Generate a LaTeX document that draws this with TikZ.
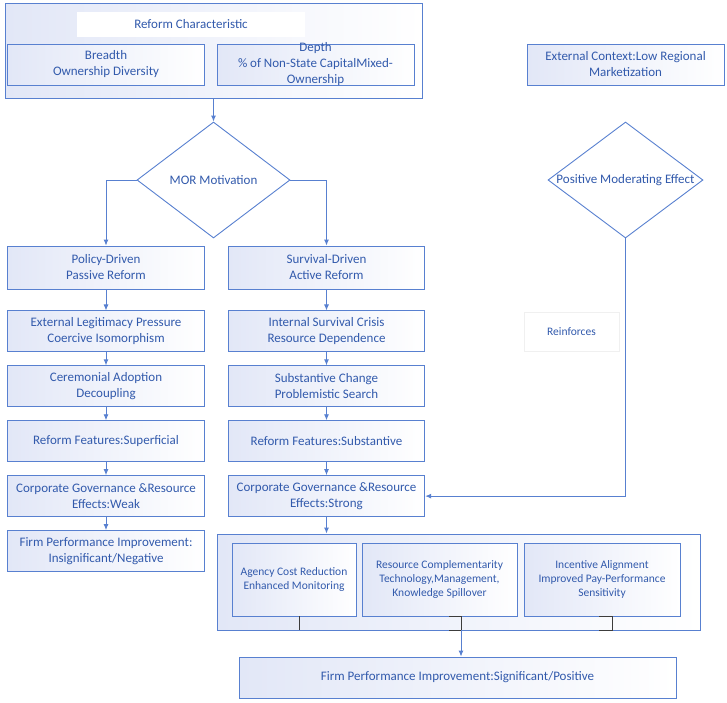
\documentclass[tikz,border=0pt]{standalone}
\usepackage{fontspec}
\setmainfont{Carlito}
\usetikzlibrary{positioning,shapes.geometric,arrows.meta}
\definecolor{morblue}{RGB}{88,128,208}
\definecolor{mortext}{RGB}{50,90,172}
\definecolor{morfill}{RGB}{226,231,247}
\definecolor{morgray}{RGB}{60,60,60}
\tikzset{
  box/.style={rectangle, draw=morblue, line width=0.9pt, left color=morfill, right color=white,
    text=mortext, align=center, font=\fontsize{13}{16}\selectfont, inner sep=1pt},
  colbox/.style={box, minimum width=196.5pt, minimum height=41pt},
  inbox/.style={box, font=\fontsize{11.5}{14}\selectfont, minimum height=73pt},
  dia/.style={diamond, draw=morblue, line width=0.9pt, fill=white, inner sep=0pt},
  diatext/.style={text=mortext, font=\fontsize{13}{16}\selectfont},
  arrow/.style={draw=morblue, line width=0.9pt, -{Latex[length=6pt,width=5pt]}},
  link/.style={draw=morgray, line width=0.9pt}
}
\begin{document}
\begin{tikzpicture}[x=1pt,y=-1pt,node distance=13pt]
  \useasboundingbox (0,0) rectangle (727,702);

  \node [box, minimum width=417pt, minimum height=95pt] (rc) at (213.5,50.5) {};
  \node [fill=white, text=mortext, font=\fontsize{13}{16}\selectfont,
    minimum width=228pt, minimum height=25pt] (ttl) at (191,24.5) {Reform Characteristic};
  \node [colbox] (br) at (106,64.5) {Breadth\\Ownership Diversity};
  \node [colbox, minimum width=197pt, inner ysep=-3pt] (dp) at (315.5,64.5)
    {Depth\\\% of Non-State CapitalMixed-\\Ownership};

  \node [colbox, minimum width=197pt] (ec) at (625.5,64.5) {External Context:Low Regional\\Marketization};

  \node [dia, minimum width=153pt, minimum height=116pt,
    label={[diatext]center:MOR Motivation}] (mor) at (213.5,180) {};
  \node [dia, minimum width=155pt, minimum height=116pt,
    label={[diatext]center:Positive Moderating Effect}] (pme) at (625.5,180) {};

  % passive branch
  \node [colbox, minimum height=43pt] (p1) at (106,267.5) {Policy-Driven\\Passive Reform};
  \node [colbox, below=21pt of p1] (p2) {External Legitimacy Pressure\\Coercive Isomorphism};
  \node [colbox, below=of p2] (p3) {Ceremonial Adoption\\Decoupling};
  \node [colbox, below=of p3] (p4) {Reform Features:Superficial};
  \node [colbox, below=of p4] (p5) {Corporate Governance \&Resource\\Effects:Weak};
  \node [colbox, below=of p5] (p6) {Firm Performance Improvement:\\Insignificant/Negative};

  % active branch
  \node [colbox, minimum height=43pt] (s1) at (326.5,267.5) {Survival-Driven\\Active Reform};
  \node [colbox, below=21pt of s1] (s2) {Internal Survival Crisis\\Resource Dependence};
  \node [colbox, below=of s2] (s3) {Substantive Change\\Problemistic Search};
  \node [colbox, below=of s3] (s4) {Reform Features:Substantive};
  \node [colbox, below=of s4] (s5) {Corporate Governance \&Resource\\Effects:Strong};

  \node [draw=gray!12, text=mortext, font=\fontsize{11.5}{14}\selectfont,
    minimum width=95pt, minimum height=39pt] (rf) at (571.5,331.5) {Reinforces};

  % mechanisms
  \node [box, minimum width=483pt, minimum height=96pt] (mech) at (458.5,582) {};
  \node [inbox, minimum width=124pt] (ag) at (294,579.5) {Agency Cost Reduction\\Enhanced Monitoring};
  \node [inbox, minimum width=155pt] (rs) at (439.5,579.5) {Resource Complementarity\\Technology,Management,\\Knowledge Spillover};
  \node [inbox, minimum width=156pt] (in) at (602,579.5) {Incentive Alignment\\Improved Pay-Performance\\Sensitivity};

  \node [box, minimum width=437pt, minimum height=41pt] (fin) at (457.5,677.5) {Firm Performance Improvement:Significant/Positive};

  \draw [arrow] (rc) -- (mor);
  \draw [arrow] (mor.west) -| (p1);
  \draw [arrow] (mor.east) -| (s1);

  \draw [arrow] (p1) -- (p2); \draw [arrow] (p2) -- (p3); \draw [arrow] (p3) -- (p4);
  \draw [arrow] (p4) -- (p5); \draw [arrow] (p5) -- (p6);

  \draw [arrow] (s1) -- (s2); \draw [arrow] (s2) -- (s3); \draw [arrow] (s3) -- (s4);
  \draw [arrow] (s4) -- (s5);
  \draw [arrow] (s5) -- (s5 |- mech.north);

  \draw [arrow] (pme.south) |- (s5.east);

  \coordinate (rj) at (461,630);
  \coordinate (ij) at (612,630);
  \draw [link] ([xshift=5pt]ag.south) -- ++(0,13.5);
  \draw [link] ([xshift=9.5pt]rs.south) -| (rj) -- ++(-12,0);
  \draw [link] ([xshift=-3pt]in.south) -| (ij) -- ++(-13,0);
  \draw [arrow] (rj) -- (rj |- fin.north);
\end{tikzpicture}
\end{document}
